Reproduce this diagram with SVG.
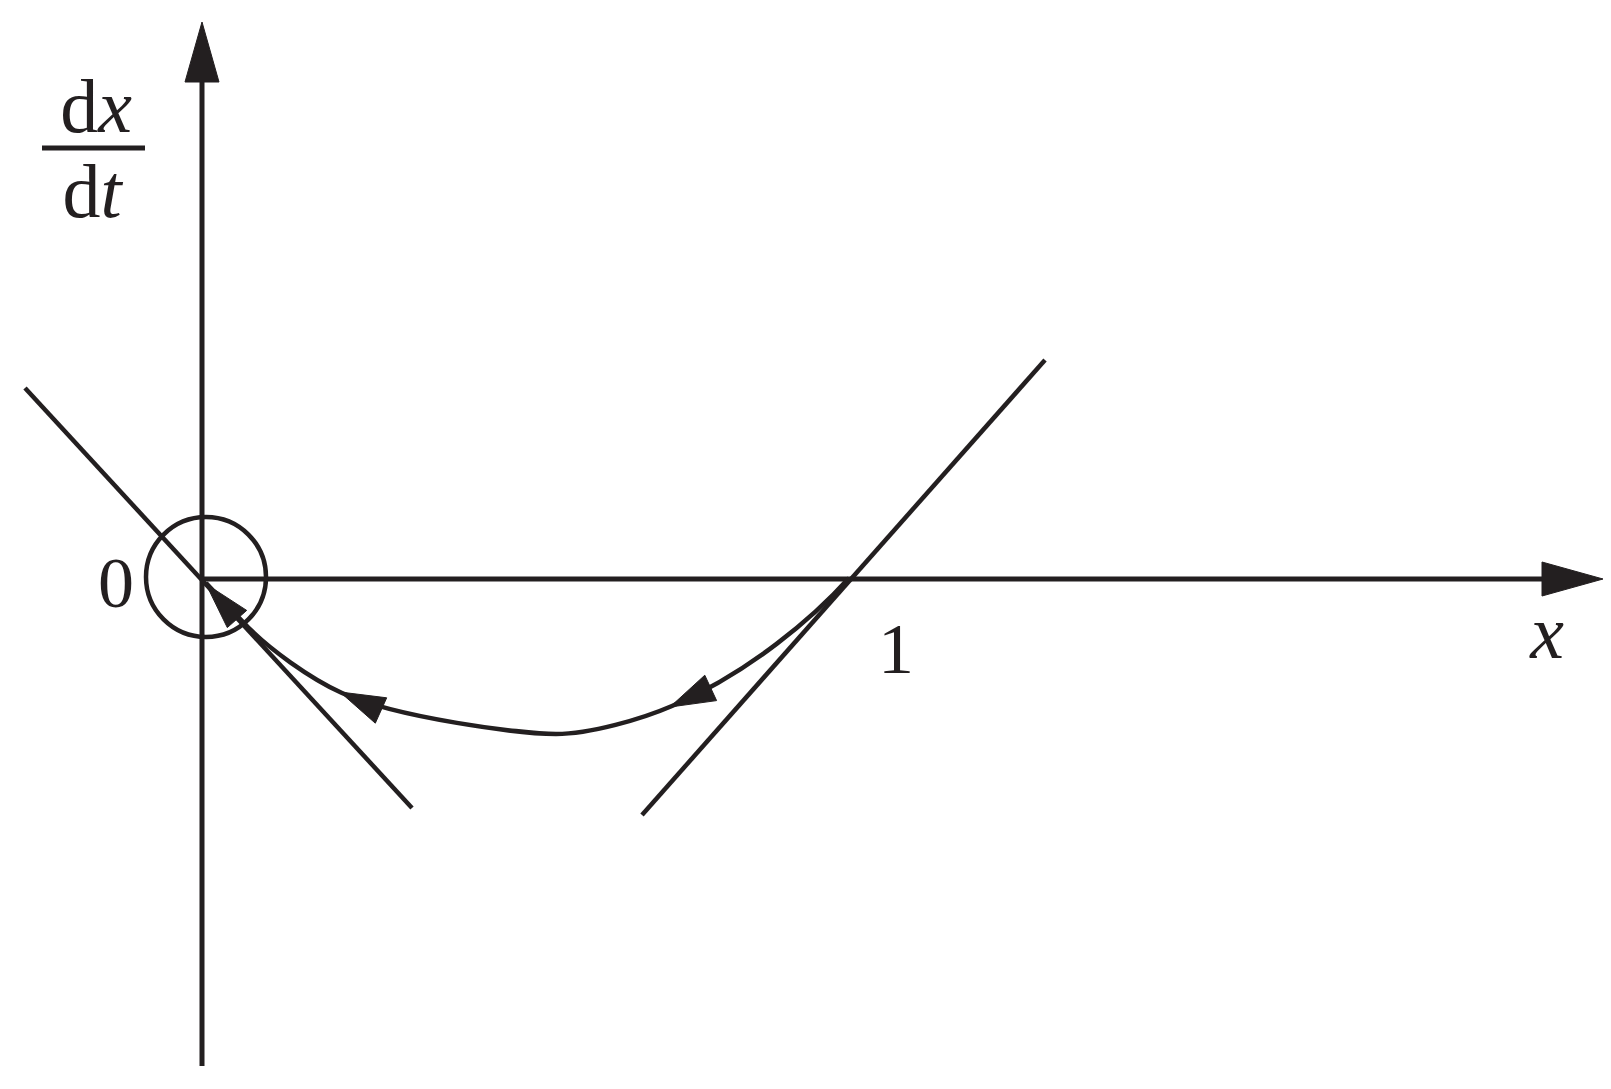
<svg xmlns="http://www.w3.org/2000/svg" width="1611" height="1089" viewBox="0 0 1611 1089">
<style>
.ln{stroke:#231f20;stroke-width:4.5;fill:none;stroke-linecap:butt}
.ax{stroke:#231f20;stroke-width:5;fill:none}
.ah{fill:#231f20;stroke:#231f20;stroke-width:1;stroke-linejoin:miter}
.t{font-family:"Liberation Serif","Times New Roman",serif;fill:#231f20}
.i{font-style:italic}
</style>
<rect width="1611" height="1089" fill="#ffffff"/>
<g id="axes">
<line class="ax" x1="202" y1="1066" x2="202" y2="70"/>
<polygon class="ah" points="202,22 185,82 219,82"/>
<line class="ax" x1="202" y1="579" x2="1555" y2="579"/>
<polygon class="ah" points="1603,579 1542,562 1542,596"/>
</g>
<g id="lines">
<line class="ln" x1="25" y1="388" x2="412" y2="808"/>
<line class="ln" x1="1045" y1="360" x2="642" y2="815"/>
</g>
<g id="origin-circle">
<circle class="ln" cx="206" cy="577" r="60"/>
</g>
<g id="connectors">
<path class="ln" d="M849,578 C814,617 750,672 672,706 C642,719 590,734 556,734 C522,734 397,718 342,693 C312,679.5 268,649 243,622 L206,583"/>
<polygon class="ah" points="670,707 716.6,700.6 704.8,675.2"/>
<polygon class="ah" points="340,692 386.7,697.8 375.3,723.2"/>
<polygon class="ah" points="206,584 246.7,610.4 227.3,627.6"/>
</g>
<g id="labels">
<text class="t" x="96" y="132" font-size="76" text-anchor="middle">d<tspan class="i">x</tspan></text>
<line x1="42" y1="148" x2="145" y2="148" stroke="#231f20" stroke-width="5"/>
<text class="t" x="92" y="217" font-size="76" text-anchor="middle">d<tspan class="i">t</tspan></text>
<text class="t" x="116" y="607" font-size="72" text-anchor="middle">0</text>
<text class="t" x="896" y="673" font-size="72" text-anchor="middle">1</text>
<text class="t i" x="1547" y="658" font-size="76" text-anchor="middle">x</text>
</g>
</svg>
